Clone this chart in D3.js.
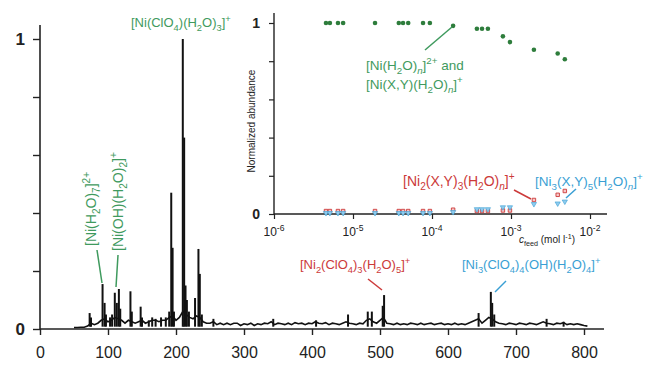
<!DOCTYPE html>
<html><head><meta charset="utf-8">
<script src="https://cdn.jsdelivr.net/npm/d3@7/dist/d3.min.js"></script>
<style>body{margin:0;background:#fff}svg{display:block}text{font-family:"Liberation Sans",Arial,sans-serif}</style>
</head><body><svg id="c" width="645" height="365"></svg>
<script>
// ---------- DATA ----------
// main spectrum: noise baseline [m/z, intensity]
const noise = [[50,0.005],[55,0.005],[60,0.006],[65,0.006],[70,0.01],[75,0.02],[80,0.015],[85,0.02],[90,0.03],[95,0.035],[100,0.025],[105,0.03],[110,0.04],[115,0.035],[120,0.03],[125,0.02],[130,0.03],[135,0.025],[140,0.02],[145,0.025],[150,0.03],[155,0.02],[160,0.025],[165,0.03],[170,0.03],[175,0.025],[180,0.03],[185,0.03],[190,0.04],[195,0.045],[200,0.03],[205,0.04],[210,0.06],[215,0.05],[220,0.04],[225,0.035],[230,0.045],[235,0.04],[240,0.025],[245,0.02],[250,0.02],[255,0.025],[260,0.015],[265,0.02],[270,0.015],[275,0.02],[280,0.015],[285,0.02],[290,0.02],[295,0.012],[300,0.018],[305,0.015],[310,0.02],[315,0.012],[320,0.018],[325,0.015],[330,0.02],[335,0.018],[340,0.025],[345,0.015],[350,0.02],[355,0.018],[360,0.015],[365,0.02],[370,0.015],[375,0.022],[380,0.018],[385,0.02],[390,0.015],[395,0.02],[400,0.018],[405,0.025],[410,0.02],[415,0.018],[420,0.022],[425,0.015],[430,0.02],[435,0.018],[440,0.015],[445,0.02],[450,0.025],[455,0.02],[460,0.018],[465,0.015],[470,0.02],[475,0.018],[480,0.03],[485,0.035],[490,0.025],[495,0.02],[500,0.03],[505,0.04],[510,0.02],[515,0.018],[520,0.015],[525,0.02],[530,0.015],[535,0.018],[540,0.015],[545,0.02],[550,0.018],[555,0.015],[560,0.02],[565,0.015],[570,0.018],[575,0.02],[580,0.015],[585,0.018],[590,0.02],[595,0.015],[600,0.018],[605,0.015],[610,0.02],[615,0.015],[620,0.018],[625,0.015],[630,0.02],[635,0.025],[640,0.03],[645,0.035],[650,0.02],[655,0.03],[660,0.04],[665,0.035],[670,0.025],[675,0.02],[680,0.018],[685,0.015],[690,0.02],[695,0.018],[700,0.015],[705,0.02],[710,0.018],[715,0.015],[720,0.02],[725,0.018],[730,0.015],[735,0.02],[740,0.025],[745,0.02],[750,0.018],[755,0.015],[760,0.02],[765,0.018],[770,0.022],[775,0.015],[780,0.018],[785,0.015],[790,0.018],[795,0.015],[800,0.012],[805,0.01]];
// main spectrum: peak sticks
const peakMz = [73,75,92,95,97,103,106,110,113,116,118,133,135,148,150,160,165,170,178,185,190,193,195,197,210,212,214,216,219,228,233,235,238,255,343,406,453,482,488,504,506,645,663,665,668,745,770];
const peakInt = [0.055,0.04,0.155,0.09,0.05,0.04,0.05,0.125,0.09,0.138,0.07,0.13,0.06,0.077,0.04,0.03,0.04,0.035,0.04,0.04,0.06,0.47,0.28,0.06,1.0,0.66,0.15,0.10,0.06,0.107,0.276,0.19,0.05,0.035,0.035,0.03,0.05,0.06,0.06,0.08,0.117,0.055,0.128,0.09,0.05,0.035,0.025];
const mainXTicks = [0,100,200,300,400,500,600,700,800];
const mainYTicks = [0,0.2,0.4,0.6,0.8,1];
const mainYLabels = ["0","","","","","1"];
// inset
const conc  = [4.55e-6,5.1e-6,6.45e-6,7.5e-6,1.9e-5,3.8e-5,4.3e-5,5.0e-5,7.7e-5,9.4e-5,1.85e-4,3.7e-4,4.3e-4,5.1e-4,7.9e-4,9.7e-4,1.95e-3,3.9e-3,4.8e-3];
const green = [1,1,1,1,1,1,1,1,1,1,0.985,0.97,0.97,0.97,0.93,0.9,0.86,0.84,0.81];
const red   = [0.005,0.005,0.005,0.005,0.005,0.005,0.005,0.005,0.005,0.005,0.012,0.005,0.005,0.005,0.008,0.008,0.063,0.09,0.11];
const blue  = [0,0,0,0,0,0,0,0,0,0,0.005,0.02,0.02,0.02,0.03,0.03,0.047,0.05,0.06];
const insetXTicks = [1e-6,1e-5,1e-4,1e-3,1e-2];
const insetXLabels = ["10^{-6}","10^{-5}","10^{-4}","10^{-3}","10^{-2}"];
const insetYTicks = [0,0.2,0.4,0.6,0.8,1];
const insetYLabels = ["0","","","","","1"];

const GREEN_T = "#3f9a5e", GREEN_D = "#2e7d3c", RED = "#cc3a3a", BLUE = "#3a9fd4";

// ---------- helpers ----------
function rich(sel, str, fs) {
  const parts = str.split(/(_\{[^}]*\}|\^\{[^}]*\})/).filter(s => s.length);
  let cur = 0;
  parts.forEach(p => {
    let t = p, target = 0, size = fs, italic = false;
    if (p.startsWith("_{")) { t = p.slice(2, -1); target = 0.28 * fs; size = 0.72 * fs; }
    else if (p.startsWith("^{")) { t = p.slice(2, -1); target = -0.42 * fs; size = 0.72 * fs; }
    if (t.startsWith("*") && t.endsWith("*") && t.length > 2) { t = t.slice(1, -1); italic = true; }
    const ts = sel.append("tspan").attr("font-size", size).attr("dy", target - cur).text(t);
    if (italic) ts.attr("font-style", "italic");
    cur = target;
  });
}

const svg = d3.select("#c");

// ---------- main chart ----------
const x = d3.scaleLinear().domain([0, 800]).range([40, 584]);
const y = d3.scaleLinear().domain([0, 1]).range([329, 39]);

const gm = svg.append("g");
gm.append("line").attr("x1", x(0)).attr("x2", 604).attr("y1", y(0)).attr("y2", y(0)).attr("stroke", "#222").attr("stroke-width", 1.6);
gm.append("line").attr("x1", x(0)).attr("x2", x(0)).attr("y1", y(0)).attr("y2", 25).attr("stroke", "#222").attr("stroke-width", 1.6);
const xAx = d3.axisBottom(x).tickValues(mainXTicks).tickSize(6).tickFormat(d3.format("d"));
const gx = gm.append("g").attr("transform", `translate(0,${y(0)})`).call(xAx);
gx.select(".domain").remove();
gx.selectAll("line").attr("stroke", "#222").attr("stroke-width", 1.4);
gx.selectAll("text").attr("font-size", 16).attr("fill", "#222").attr("dy", 0).attr("y", 29);
const yAx = d3.axisLeft(y).tickValues(mainYTicks).tickSize(7).tickFormat((d, i) => mainYLabels[i]);
const gy = gm.append("g").attr("transform", `translate(${x(0)},0)`).call(yAx);
gy.select(".domain").remove();
gy.selectAll("line").attr("stroke", "#222").attr("stroke-width", 1.4);
gy.selectAll("text").attr("font-size", 17).attr("font-weight", "bold").attr("fill", "#222").attr("x", -15);

// spectrum
gm.append("path").datum(noise)
  .attr("d", d3.line().x(d => x(d[0])).y(d => y(d[1])))
  .attr("fill", "none").attr("stroke", "#111").attr("stroke-width", 1.6);
gm.selectAll(".pk").data(peakMz).join("line").attr("class", "pk")
  .attr("x1", d => x(d)).attr("x2", d => x(d))
  .attr("y1", y(0.008)).attr("y2", (d, i) => y(peakInt[i]))
  .attr("stroke", "#111").attr("stroke-width", 2);

// main labels
rich(gm.append("text").attr("x", 131).attr("y", 27).attr("fill", GREEN_T).attr("font-size", 13), "[Ni(ClO_{4})(H_{2}O)_{3}]^{+}", 13);
rich(gm.append("text").attr("transform", "translate(96,246) rotate(-90)").attr("fill", GREEN_T).attr("font-size", 14), "[Ni(H_{2}O)_{7}]^{2+}", 14);
rich(gm.append("text").attr("transform", "translate(123,251) rotate(-90)").attr("fill", GREEN_T).attr("font-size", 14), "[Ni(OH)(H_{2}O)_{2}]^{+}", 14);
rich(gm.append("text").attr("x", 300).attr("y", 269).attr("fill", RED).attr("font-size", 13), "[Ni_{2}(ClO_{4})_{3}(H_{2}O)_{5}]^{+}", 13);
rich(gm.append("text").attr("x", 462).attr("y", 269).attr("fill", BLUE).attr("font-size", 13), "[Ni_{3}(ClO_{4})_{4}(OH)(H_{2}O)_{4}]^{+}", 13);
gm.append("line").attr("x1", 97).attr("y1", 250).attr("x2", 102).attr("y2", 283).attr("stroke", GREEN_T).attr("stroke-width", 1.5);
gm.append("line").attr("x1", 118).attr("y1", 255).attr("x2", 116).attr("y2", 287).attr("stroke", GREEN_T).attr("stroke-width", 1.5);
gm.append("line").attr("x1", 368).attr("y1", 279).attr("x2", 382).attr("y2", 290).attr("stroke", RED).attr("stroke-width", 1.5);
gm.append("line").attr("x1", 506).attr("y1", 281).attr("x2", 495).attr("y2", 292).attr("stroke", BLUE).attr("stroke-width", 1.5);

// ---------- inset ----------
const xi = d3.scaleLog().domain([1e-6, 1e-2]).range([274, 590]);
const yi = d3.scaleLinear().domain([0, 1]).range([214, 23]);
const gi = svg.append("g");
gi.append("line").attr("x1", xi(1e-6)).attr("x2", 607).attr("y1", yi(0)).attr("y2", yi(0)).attr("stroke", "#222").attr("stroke-width", 1.4);
gi.append("line").attr("x1", xi(1e-6)).attr("x2", xi(1e-6)).attr("y1", yi(0)).attr("y2", 13).attr("stroke", "#222").attr("stroke-width", 1.4);
const gix = gi.append("g").attr("transform", `translate(0,${yi(0)})`).call(d3.axisBottom(xi).tickValues(insetXTicks).tickSize(5).tickFormat(""));
gix.select(".domain").remove();
gix.selectAll("line").attr("stroke", "#222").attr("stroke-width", 1.2);
insetXTicks.forEach((v, i) => {
  rich(gi.append("text").attr("x", xi(v)).attr("y", 236).attr("text-anchor", "middle").attr("fill", "#222").attr("font-size", 12), insetXLabels[i], 12);
});
const giy = gi.append("g").attr("transform", `translate(${xi(1e-6)},0)`).call(d3.axisLeft(yi).tickValues(insetYTicks).tickSize(5).tickFormat((d, i) => insetYLabels[i]));
giy.select(".domain").remove();
giy.selectAll("line").attr("stroke", "#222").attr("stroke-width", 1.2);
giy.selectAll("text").attr("font-size", 14).attr("font-weight", "bold").attr("fill", "#222").attr("x", -14);

const xl = gi.append("text").attr("x", 519).attr("y", 243).attr("fill", "#222").attr("font-size", 10);
xl.append("tspan").attr("font-style", "italic").text("c");
rich(xl, "_{feed} (mol l^{-1})", 10);
gi.append("text").attr("transform", "translate(255,121) rotate(-90)").attr("text-anchor", "middle").attr("font-size", 10).attr("fill", "#222").text("Normalized abundance");

// points
const sym = d3.symbol();
gi.selectAll(".rp").data(conc).join("path").attr("class", "rp")
  .attr("d", sym.type(d3.symbolSquare).size(12)())
  .attr("transform", (d, i) => `translate(${xi(d)},${yi(red[i]) - 2})`)
  .attr("fill", "#f6c8c8").attr("stroke", RED).attr("stroke-width", 0.9);
gi.selectAll(".bp").data(conc).join("path").attr("class", "bp")
  .attr("d", sym.type(d3.symbolTriangle).size(12)())
  .attr("transform", (d, i) => `translate(${xi(d)},${yi(blue[i]) - 1}) rotate(180)`)
  .attr("fill", "#8fcbee").attr("stroke", BLUE).attr("stroke-width", 0.6);
gi.selectAll(".gp").data(conc).join("circle").attr("class", "gp")
  .attr("cx", d => xi(d)).attr("cy", (d, i) => yi(green[i])).attr("r", 2.3)
  .attr("fill", GREEN_D);

// inset labels
rich(gi.append("text").attr("x", 366).attr("y", 70).attr("fill", GREEN_T).attr("font-size", 13.5), "[Ni(H_{2}O)_{*n*}]^{2+} and", 13.5);
rich(gi.append("text").attr("x", 366).attr("y", 89).attr("fill", GREEN_T).attr("font-size", 13.5), "[Ni(X,Y)(H_{2}O)_{*n*}]^{+}", 13.5);
rich(gi.append("text").attr("x", 403).attr("y", 186).attr("fill", RED).attr("font-size", 14), "[Ni_{2}(X,Y)_{3}(H_{2}O)_{*n*}]^{+}", 14);
rich(gi.append("text").attr("x", 535).attr("y", 186).attr("fill", BLUE).attr("font-size", 13.5), "[Ni_{3}(X,Y)_{5}(H_{2}O)_{*n*}]^{+}", 13.5);
gi.append("line").attr("x1", 425).attr("y1", 50).attr("x2", 452).attr("y2", 27).attr("stroke", GREEN_T).attr("stroke-width", 1.5);
gi.append("line").attr("x1", 514).attr("y1", 190).attr("x2", 531).attr("y2", 199).attr("stroke", RED).attr("stroke-width", 1.5);
gi.append("line").attr("x1", 576).attr("y1", 189).attr("x2", 566).attr("y2", 198).attr("stroke", BLUE).attr("stroke-width", 1.5);
</script></body></html>
